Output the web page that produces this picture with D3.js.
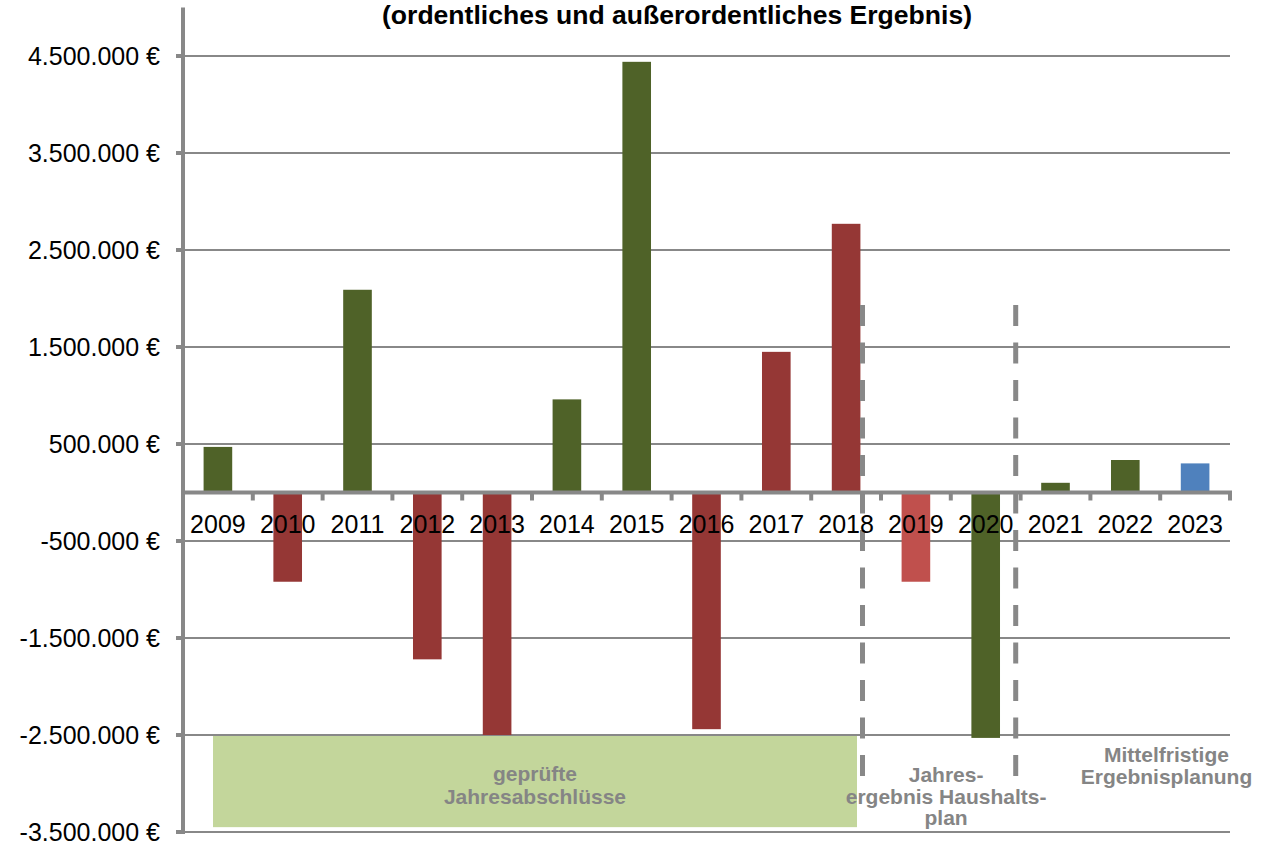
<!DOCTYPE html>
<html><head><meta charset="utf-8">
<script src="https://cdn.jsdelivr.net/npm/d3@7"></script>
<style>html,body{margin:0;padding:0;background:#fff;}svg{display:block;font-family:Arial,"Liberation Sans",sans-serif;}</style>
</head><body><svg id="c" width="1267" height="848"></svg>
<script>
const years = ["2009","2010","2011","2012","2013","2014","2015","2016","2017","2018","2019","2020","2021","2022","2023"];
const values = [470000,-920000,2090000,-1720000,-2500000,960000,4440000,-2440000,1450000,2770000,-920000,-2530000,100000,335000,300000];
const colorKeys = ["g","r","g","r","r","g","g","r","r","r","r2","g","g","g","b"];
const palette = {g:"#4F6228", r:"#953735", r2:"#C0504D", b:"#4F81BD"};
const yTicks = [-3500000,-2500000,-1500000,-500000,500000,1500000,2500000,3500000,4500000];
const titleText = "(ordentliches und außerordentliches Ergebnis)";
const dividerSteps = [9.735, 11.93];
const boxSpan = {from:0.43, to:9.656, top:-2500000, bottom:-3450000};
const boxLabel = ["geprüfte","Jahresabschlüsse"];
const planLabel = ["Jahres-","ergebnis Haushalts-","plan"];
const midLabel = ["Mittelfristige","Ergebnisplanung"];

const svg = d3.select("#c");
const L = 183, R = 1230;
const x = d3.scaleBand().domain(years).range([L, R]).paddingInner(0.59).paddingOuter(0.295);
const y = d3.scaleLinear().domain([-3500000, 5000000]).range([832, 7.5]);
const step = x.step();
const gray = "#888888";
const fmt = v => (v < 0 ? "-" : "") + d3.format(",")(Math.abs(v)).replace(/,/g, ".") + " €";

// green box
svg.append("rect").attr("x", L + step*boxSpan.from).attr("width", step*(boxSpan.to-boxSpan.from))
  .attr("y", y(boxSpan.top)).attr("height", y(boxSpan.bottom)-y(boxSpan.top)).attr("fill", "#C3D69B");

// gridlines
svg.append("g").selectAll("line").data(yTicks).join("line")
  .attr("x1", L).attr("x2", R).attr("y1", d=>y(d)).attr("y2", d=>y(d))
  .attr("stroke", gray).attr("stroke-width", 2);

// bars
svg.append("g").selectAll("rect").data(values).join("rect")
  .attr("x", (d,i)=>x(years[i])).attr("width", x.bandwidth())
  .attr("y", d=>y(Math.max(0,d))).attr("height", d=>Math.abs(y(d)-y(0)))
  .attr("fill", (d,i)=>palette[colorKeys[i]]);

// dividers
svg.append("g").selectAll("line").data(dividerSteps).join("line")
  .attr("x1", d=>L+step*d).attr("x2", d=>L+step*d).attr("y1", 305).attr("y2", 776)
  .attr("stroke", gray).attr("stroke-width", 5).attr("stroke-dasharray", "21,16.5");

// y axis
svg.append("line").attr("x1", L).attr("x2", L).attr("y1", y(5000000)).attr("y2", y(-3500000)+2)
  .attr("stroke", gray).attr("stroke-width", 4);
svg.append("g").selectAll("line").data(yTicks).join("line")
  .attr("x1", L-7).attr("x2", L).attr("y1", d=>y(d)).attr("y2", d=>y(d))
  .attr("stroke", gray).attr("stroke-width", 4);
svg.append("g").selectAll("text").data(yTicks).join("text")
  .attr("x", 160).attr("y", d=>y(d)).attr("dy", "0.35em").attr("text-anchor", "end")
  .attr("font-size", 25).attr("fill", "#000").text(fmt);

// x axis
svg.append("line").attr("x1", L).attr("x2", R+2).attr("y1", y(0)).attr("y2", y(0))
  .attr("stroke", gray).attr("stroke-width", 4);
svg.append("g").selectAll("line").data(d3.range(1, years.length+1)).join("line")
  .attr("x1", d=>L+step*d).attr("x2", d=>L+step*d).attr("y1", y(0)).attr("y2", y(0)+8)
  .attr("stroke", gray).attr("stroke-width", 4);
svg.append("g").selectAll("text").data(years).join("text")
  .attr("x", d=>x(d)+x.bandwidth()/2).attr("y", 533).attr("text-anchor", "middle")
  .attr("font-size", 25).attr("fill", "#000").text(d=>d);

// title
svg.append("text").attr("x", 677).attr("y", 24).attr("text-anchor", "middle")
  .attr("font-size", 26.5).attr("font-weight", "bold").attr("fill", "#000")
  .attr("textLength", 590).attr("lengthAdjust", "spacingAndGlyphs").text(titleText);

// annotations
function block(lines, cx, y0, lh){
  svg.append("g").selectAll("text").data(lines).join("text")
    .attr("x", cx).attr("y", (d,i)=>y0+i*lh).attr("text-anchor", "middle")
    .attr("font-size", 21).attr("font-weight", "bold").attr("fill", "#858585").text(d=>d);
}
block(boxLabel, L + step*(boxSpan.from+boxSpan.to)/2, 781, 22.5);
block(planLabel, L + step*(dividerSteps[0]+dividerSteps[1])/2 + 7, 782, 21.5);
block(midLabel, L + step*14.09, 762, 21.5);
</script></body></html>
